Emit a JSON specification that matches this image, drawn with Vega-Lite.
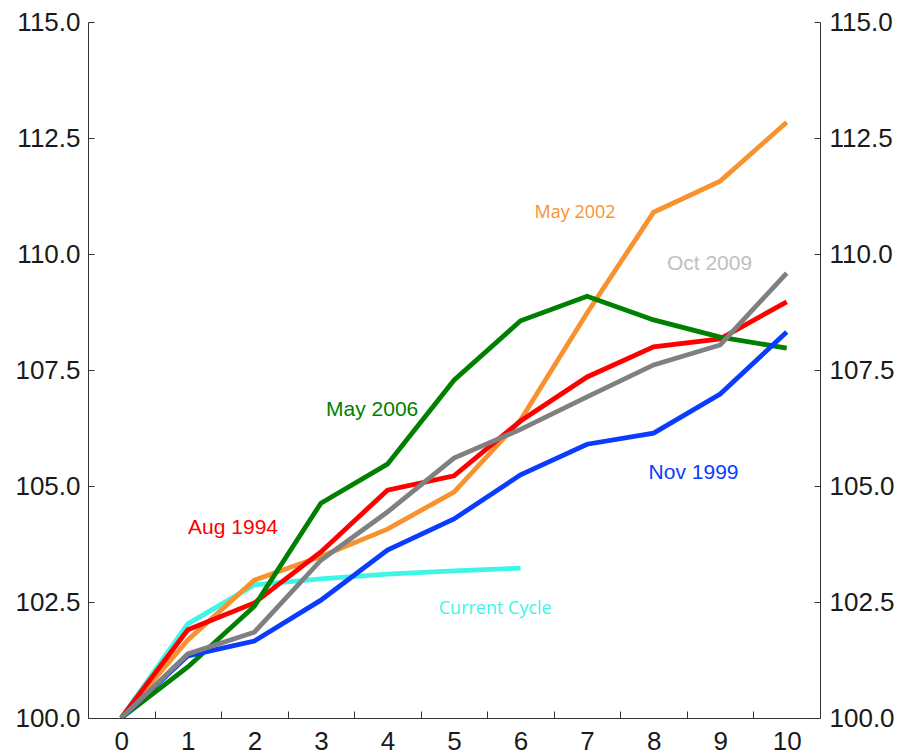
{
  "$schema": "https://vega.github.io/schema/vega-lite/v6.json",
  "autosize": {"type": "none"},
  "width": 732,
  "height": 696,
  "padding": {"left": 88, "top": 22, "right": 80, "bottom": 36},
  "background": "white",
  "config": {"view": {"stroke": null}, "axis": {"grid": false, "labelFont": "Liberation Sans", "labelColor": "#1a1a1a", "domainColor": "#333333", "tickColor": "#333333", "labelFontSize": 26}},
  "datasets": {
    "series": [
      {"series":"Current Cycle","x":0,"v":100},{"series":"Current Cycle","x":1,"v":102.03},{"series":"Current Cycle","x":2,"v":102.87},{"series":"Current Cycle","x":3,"v":103.0},{"series":"Current Cycle","x":4,"v":103.1},{"series":"Current Cycle","x":5,"v":103.17},{"series":"Current Cycle","x":6,"v":103.23},
      {"series":"May 2002","x":0,"v":100},{"series":"May 2002","x":1,"v":101.68},{"series":"May 2002","x":2,"v":102.97},{"series":"May 2002","x":3,"v":103.48},{"series":"May 2002","x":4,"v":104.07},{"series":"May 2002","x":5,"v":104.87},{"series":"May 2002","x":6,"v":106.42},{"series":"May 2002","x":7,"v":108.73},{"series":"May 2002","x":8,"v":110.9},{"series":"May 2002","x":9,"v":111.57},{"series":"May 2002","x":10,"v":112.84},
      {"series":"Aug 1994","x":0,"v":100},{"series":"Aug 1994","x":1,"v":101.9},{"series":"Aug 1994","x":2,"v":102.48},{"series":"Aug 1994","x":3,"v":103.58},{"series":"Aug 1994","x":4,"v":104.91},{"series":"Aug 1994","x":5,"v":105.22},{"series":"Aug 1994","x":6,"v":106.4},{"series":"Aug 1994","x":7,"v":107.35},{"series":"Aug 1994","x":8,"v":108.0},{"series":"Aug 1994","x":9,"v":108.17},{"series":"Aug 1994","x":10,"v":108.97},
      {"series":"May 2006","x":0,"v":100},{"series":"May 2006","x":1,"v":101.1},{"series":"May 2006","x":2,"v":102.41},{"series":"May 2006","x":3,"v":104.63},{"series":"May 2006","x":4,"v":105.47},{"series":"May 2006","x":5,"v":107.28},{"series":"May 2006","x":6,"v":108.56},{"series":"May 2006","x":7,"v":109.09},{"series":"May 2006","x":8,"v":108.58},{"series":"May 2006","x":9,"v":108.21},{"series":"May 2006","x":10,"v":107.97},
      {"series":"Nov 1999","x":0,"v":100},{"series":"Nov 1999","x":1,"v":101.34},{"series":"Nov 1999","x":2,"v":101.66},{"series":"Nov 1999","x":3,"v":102.54},{"series":"Nov 1999","x":4,"v":103.62},{"series":"Nov 1999","x":5,"v":104.29},{"series":"Nov 1999","x":6,"v":105.24},{"series":"Nov 1999","x":7,"v":105.9},{"series":"Nov 1999","x":8,"v":106.14},{"series":"Nov 1999","x":9,"v":106.98},{"series":"Nov 1999","x":10,"v":108.32},
      {"series":"Oct 2009","x":0,"v":100},{"series":"Oct 2009","x":1,"v":101.38},{"series":"Oct 2009","x":2,"v":101.85},{"series":"Oct 2009","x":3,"v":103.4},{"series":"Oct 2009","x":4,"v":104.44},{"series":"Oct 2009","x":5,"v":105.6},{"series":"Oct 2009","x":6,"v":106.22},{"series":"Oct 2009","x":7,"v":106.92},{"series":"Oct 2009","x":8,"v":107.61},{"series":"Oct 2009","x":9,"v":108.04},{"series":"Oct 2009","x":10,"v":109.59}
    ],
    "labels": [
      {"label":"Oct 2009","x":8.84,"y":109.78},
      {"label":"Nov 1999","x":8.6,"y":105.28},
      {"label":"Aug 1994","x":1.68,"y":104.09},
      {"label":"May 2006","x":3.77,"y":106.64}
    ],
    "labels2": [
      {"label":"May 2002","x":6.82,"y":110.88},
      {"label":"Current Cycle","x":5.62,"y":102.35}
    ],
    "ticks": [{"x":0.5,"y":100},{"x":1.5,"y":100},{"x":2.5,"y":100},{"x":3.5,"y":100},{"x":4.5,"y":100},{"x":5.5,"y":100},{"x":6.5,"y":100},{"x":7.5,"y":100},{"x":8.5,"y":100},{"x":9.5,"y":100}]
  },
  "layer": [
    {
      "data": {"name": "series"},
      "mark": {"type": "line", "strokeWidth": 4.8, "strokeJoin": "miter", "clip": true},
      "encoding": {
        "x": {"field": "x", "type": "quantitative", "scale": {"domain": [-0.5, 10.5], "nice": false, "zero": false},
              "axis": {"orient": "bottom", "values": [0,1,2,3,4,5,6,7,8,9,10], "ticks": false, "labelPadding": 10, "title": null, "format": "d", "labelFlush": false}},
        "y": {"field": "v", "type": "quantitative", "scale": {"domain": [100, 115], "nice": false, "zero": false},
              "axis": {"orient": "left", "values": [100,102.5,105,107.5,110,112.5,115], "format": ".1f", "tickSize": -6, "labelPadding": 14, "title": null, "labelFlush": false}},
        "color": {"field": "series", "type": "nominal", "legend": null,
                  "scale": {"domain": ["Current Cycle","May 2002","Aug 1994","May 2006","Nov 1999","Oct 2009"],
                            "range": ["#3EF5E6","#F7922F","#FF0000","#008000","#0A3CFF","#808080"]}},
        "order": {"field": "x", "type": "quantitative"}
      }
    },
    {
      "data": {"name": "ticks"},
      "mark": {"type": "point", "opacity": 0},
      "encoding": {
        "x": {"field": "x", "type": "quantitative",
              "axis": {"orient": "bottom", "values": [0.5,1.5,2.5,3.5,4.5,5.5,6.5,7.5,8.5,9.5], "labels": false, "tickSize": -7, "domain": false, "title": null}},
        "y": {"field": "y", "type": "quantitative",
              "axis": {"orient": "right", "values": [100,102.5,105,107.5,110,112.5,115], "format": ".1f", "tickSize": -6, "labelPadding": 15, "title": null, "labelFlush": false}}
      }
    },
    {
      "data": {"name": "labels"},
      "mark": {"type": "text", "font": "Liberation Sans", "fontSize": 21, "align": "center", "baseline": "middle"},
      "encoding": {
        "x": {"field": "x", "type": "quantitative", "axis": null},
        "y": {"field": "y", "type": "quantitative", "axis": null},
        "text": {"field": "label"},
        "color": {"field": "label", "type": "nominal", "legend": null,
                  "scale": {"domain": ["Oct 2009","Nov 1999","Aug 1994","May 2006"], "range": ["#C0C0C0","#0A3CFF","#FF0000","#008000"]}}
      }
    },
    {
      "data": {"name": "labels2"},
      "mark": {"type": "text", "font": "Open Sans", "fontSize": 18, "align": "center", "baseline": "middle"},
      "encoding": {
        "x": {"field": "x", "type": "quantitative", "axis": null},
        "y": {"field": "y", "type": "quantitative", "axis": null},
        "text": {"field": "label"},
        "color": {"field": "label", "type": "nominal", "legend": null,
                  "scale": {"domain": ["May 2002","Current Cycle"], "range": ["#F7922F","#3EF5E6"]}}
      }
    }
  ],
  "resolve": {"axis": {"x": "independent", "y": "independent"}, "scale": {"color": "independent"}}
}
